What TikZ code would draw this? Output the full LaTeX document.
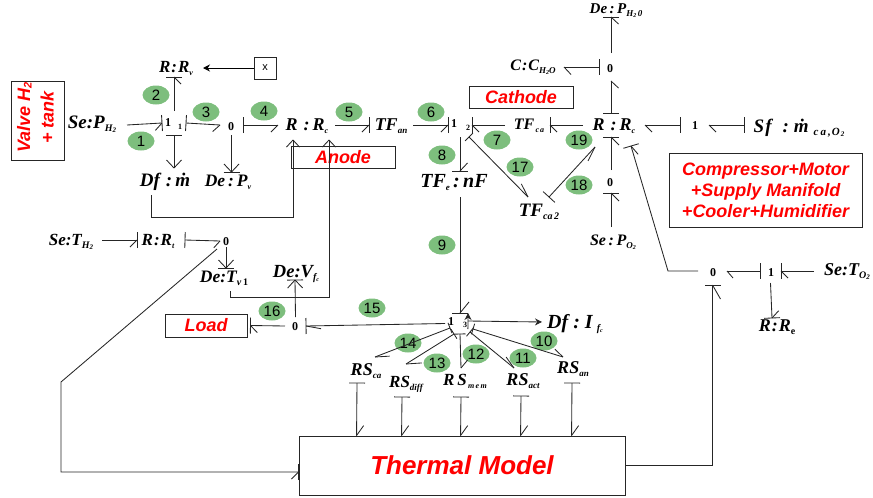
\documentclass[tikz,border=0pt]{standalone}
\usepackage{fontspec}
\setmainfont{Liberation Serif}
\newfontfamily\rdf{Liberation Sans}
\usetikzlibrary{arrows.meta,shapes.geometric,decorations.markings}
\newcommand{\fs}[1]{\fontsize{#1}{#1}\selectfont}
\newcommand{\subt}[2]{\raisebox{-3pt}{\fs{#1}#2}}
\newcommand{\subu}[2]{\raisebox{-1.5pt}{\fs{#1}#2}}
\newcommand{\jf}{\upshape\fs{12}}
\definecolor{grnc}{HTML}{7DBE7D}
\tikzset{
 lblbox/.style={inner sep=0pt,outer sep=0pt,font=\bfseries\itshape},
 bondl/.style={draw=black!85,line width=0.85pt},
 mk/.style 2 args={postaction={decorate,decoration={markings,mark=at position #1 with {#2}}}},
 tipL/.style 2 args={mk={0.9999}{\draw[bondl] (0pt,0pt)--({-#1*1pt},{#2*0.5pt});}},
 tipR/.style 2 args={mk={0.9999}{\draw[bondl] (0pt,0pt)--({-#1*1pt},{-#2*0.5pt});}},
 barE/.style={mk={0.9999}{\draw[bondl] (0pt,-8pt)--(0pt,8pt);}},
 barS/.style={mk={0.0001}{\draw[bondl] (0pt,-8pt)--(0pt,8pt);}},
 barSs/.style={mk={0.0001}{\draw[bondl] (0pt,-5.5pt)--(0pt,5.5pt);}},
 eR/.style 2 args={bondl,tipR={#1}{#2},barE},
 eL/.style 2 args={bondl,tipL={#1}{#2},barE},
 sR/.style 2 args={bondl,tipR={#1}{#2},barS},
 sL/.style 2 args={bondl,tipL={#1}{#2},barS},
 sLs/.style 2 args={bondl,tipL={#1}{#2},barSs},
 sO/.style={bondl,tipL={8}{15},tipR={8}{15},barS},
 eO/.style={bondl,tipL={8}{15},tipR={8}{15},barE},
 oa/.style={bondl,tipL={7}{13},tipR={7}{13}},
 fa/.style={draw=black,line width=0.85pt,arrows={-{Stealth[length=7pt,width=7pt]}}},
 sF/.style={bondl,barS,arrows={-{Stealth[length=7pt,width=7pt]}}},
 grn/.style={ellipse,fill=grnc,inner sep=0pt,minimum width=27pt,minimum height=19pt,font=\rdf\fs{15}},
 rbox/.style={draw=black!85,line width=0.9pt,inner sep=0pt,text=red,font=\rdf\bfseries\itshape\fs{18},align=center},
}
\newcommand{\bn}[8]{%
 \pgfmathsetmacro\cxa{(#2+#4)/2}\pgfmathsetmacro\cya{(#3+#5)/2}%
 \pgfmathsetmacro\wa{#4-#2}\pgfmathsetmacro\ha{#5-#3}%
 \pgfmathsetmacro\dxa{2*(#6-\cxa)}\pgfmathsetmacro\dya{\cya-#7}%
 \node[lblbox,minimum width=\wa pt,minimum height=\ha pt] (#1) at (\cxa,\cya)
   {\smash{\makebox[0pt]{\hspace*{\dxa pt}\raisebox{\dya pt}{#8}}}};%
}
\begin{document}
\begin{tikzpicture}[x=1pt,y=-1pt]
\useasboundingbox (0,0) rectangle (873,498);
% red boxes
\node[rbox,minimum width=52.5pt,minimum height=79pt] (valve) at (38,120.5) {\rotatebox{90}{\hspace*{6pt}\begin{tabular}{@{}c@{}}\fs{18}Valve H\subu{11}{2}\\[5pt]\fs{18}+ tank\end{tabular}}};
\node[rbox,minimum width=104pt,minimum height=22pt] (cath) at (521,97) {Cathode};
\node[rbox,minimum width=104pt,minimum height=22pt] (anode) at (343,157) {Anode};
\node[rbox,minimum width=193pt,minimum height=74pt] (comp) at (765.5,190) {Compressor+Motor\\[3pt]+Supply Manifold\\[3pt]+Cooler+Humidifier};
\node[rbox,minimum width=82pt,minimum height=23pt] (load) at (206,325.5) {Load};
\node[rbox,minimum width=326pt,minimum height=59pt,font=\rdf\bfseries\itshape\fs{26}] (th) at (462,465.5) {Thermal Model};
\node[draw=black!85,line width=0.9pt,inner sep=0pt,minimum width=22pt,minimum height=22pt,font=\rdf\fs{11}] (xb) at (265,68) {x};
% green tags
\foreach \nm/\px/\py/\t in {g1/141/141/1,g2/156/95/2,g3/206/112/3,g4/264/111/4,g5/349/112/5,g6/431/112/6,g7/497/140/7,g8/442/155/8,g9/442/245/9,g10/544/341/10,g11/523/358/11,g12/476/354/12,g13/437/363/13,g14/408/343/14,g15/372/308/15,g16/272/311/16,g17/520/167/17,g18/579/185/18,g19/579/140/19}
  \node[grn] (\nm) at (\px,\py) {\t};
% labels and junctions
\bn{sePH}{60}{110}{127}{140}{92}{128}{\fs{19}Se:P\subt{10}{H\subu{7}{2}}}
\bn{ja}{162}{111}{186}{135}{168}{126}{\jf 1}
\node[lblbox,font=\bfseries\fs{8}] (sa) at (180,127) {1};
\bn{jb}{220}{115}{243}{135}{231}{130}{\jf 0}
\bn{Rv}{145}{59}{203}{77}{176}{72}{\fs{17}R\kern1pt:\kern1pt R\subt{8}{v}}
\bn{Df}{151}{168}{197}{195}{165}{186}{\fs{19}Df\hspace{6pt}:\hspace{3pt}ṁ}
\bn{Dep}{205}{172}{258}{190}{228}{186}{\fs{17.5}De\,:\,P\subt{8}{v}}
\bn{Rc}{293}{110}{329}{140}{307}{130}{\fs{18}R\,\,:\,R\subt{8}{c}}
\bn{TFan}{369}{117}{413}{133}{391}{130}{\fs{18}TF\subt{9}{an}}
\bn{jc}{448}{113}{472}{137}{454}{127}{\jf 1}
\node[lblbox,font=\bfseries\fs{8}] (sc) at (468,128) {2};
\bn{TFca}{505}{115}{550}{135}{529}{129}{\fs{16}TF\subt{8}{\,c\kern1pt a}}
\bn{Rr}{583}{113}{639}{137}{614}{130}{\fs{18}R\,\,:\,R\subt{8}{c}}
\bn{jd}{680}{115}{709}{135}{695}{129}{\jf 1}
\bn{Sf}{744}{115}{855}{135}{799}{132}{\fs{19}S\kern1pt f\hspace{11pt}:\hspace{5pt}ṁ\hspace{5pt}\subt{11}{c\kern2pt a\kern2pt,\kern1pt O\kern1pt\subu{7}{2}}}
\bn{je}{599}{53}{623}{81}{610}{72}{\jf 0}
\bn{Cc}{500}{57}{564}{77}{533}{70}{\fs{16}C\kern1pt:\kern1pt C\subt{9}{H\subu{6}{2}O}}
\bn{Dew}{585}{0}{637}{17}{616}{13}{\fs{15}De\,:\,P\subt{9}{H\subu{6}{2}\,0}}
\bn{jf}{600}{170}{622}{193}{610}{186}{\jf 0}
\bn{SeO}{585}{227}{637}{252}{613}{245}{\fs{16}Se\,:\,P\subt{9}{O\subu{6}{2}}}
\bn{TFb}{528}{197}{549}{225}{539}{216}{\fs{19}TF\subt{10}{ca\,2}}
\bn{TFe}{421}{171}{499}{197}{454}{187}{\fs{20}TF\subt{9}{e}\,:\,nF}
\bn{jr}{760}{259}{781}{283}{771}{276}{\jf 1}
\bn{jq}{698}{257}{727}{285}{713}{276}{\jf 0}
\bn{SeT}{814}{260}{873}{282}{847}{275}{\fs{18}Se:T\subt{10}{O\subu{7}{2}}}
\bn{Re}{750}{318}{794}{336}{777}{331}{\fs{18}R\kern1pt:\kern1pt R\subt{10}{\upshape e}}
\bn{Dfi}{542}{312}{606}{332}{575}{328}{\fs{20}Df\hspace{5pt}:\hspace{5pt}I\subt{10}{\kern4pt f\subu{6}{c}}}
\bn{SeH}{44}{230}{102}{250}{71}{245}{\fs{17}Se:T\subt{10}{H\subu{7}{2}}}
\bn{Rt}{137}{230}{185}{250}{158}{245}{\fs{17}R\kern1pt:\kern1pt R\subt{8}{t}}
\bn{jt}{220}{235}{232}{247}{226}{245}{\jf 0}
\bn{Det}{199}{268}{253}{291}{224}{282}{\fs{17.5}De:T\subt{10}{v\,\upshape 1}}
\bn{Dev}{272}{262}{318}{280}{296}{277}{\fs{18.5}De:V\subt{10}{f\subu{6}{c}}}
\bn{jl}{285}{317}{306}{335}{295}{330}{\jf 0}
\bn{jm}{445}{313}{475}{334}{451}{325}{\jf 1}
\node[lblbox,font=\bfseries\fs{8}] (sm) at (465,325) {3};
\bn{RSca}{351}{357}{381}{383}{366}{375}{\fs{18}RS\subt{9}{ca}}
\bn{RSd}{389}{364}{423}{397}{406}{387}{\fs{17}RS\subt{9}{diff}}
\bn{RSm}{443}{368}{479}{397}{465}{385}{\fs{17}R\,S\subt{8}{\,m\,e\,m}}
\bn{RSa}{495}{368}{533}{396}{523}{385}{\fs{18}RS\subt{9}{act}}
\bn{RSn}{550}{357}{576}{383}{573}{373}{\fs{18}RS\subt{9}{an}}
\coordinate (c1) at (151,217);
\coordinate (c2) at (230,297);
\coordinate (c3) at (668,271);
\coordinate (c4) at (61,382);
\coordinate (c5) at (61,472);
% bonds
\draw[eR={7}{14}] (sePH.east) -- (ja.west);
\draw[eR={7}{14}] (ja.north) -- (Rv.south);
\draw[sR={7}{14}] (ja.east) -- (jb.west);
\draw[sR={7}{14}] (jb.east) -- ([xshift=-15pt]Rc.west);
\draw[sO] (ja.south) -- (Df.north);
\draw[eO] (jb.south) -- (Dep.north);
\draw[fa] (xb.west) -- (Rv.east);
\draw[oa] (Df.south west) -- (c1) -| (Rc.south west);
\draw[oa] ([xshift=4pt]Det.south) -- (c2) -| (Rc.south east);
\draw[eR={7}{14}] ([xshift=6pt]Rc.east) -- (TFan.west);
\draw[eR={7}{14}] (TFan.east) -- (jc.west);
\draw[eL={7}{14}] (TFca.west) -- (jc.east);
\draw[eL={7}{14}] (Rr.west) -- (TFca.east);
\draw[eL={8}{15}] (jc.south) -- (TFe.north);
\draw[eL={11}{18}] (TFe.south) -- (jm.north);
\draw[sLs={14}{8.8}] ([xshift=-3pt]jc.south east) -- (TFb.north west);
\draw[sR={15}{8.6}] (TFb.north east) -- ([shift={(-16,22)}]Rr.center);
\draw[eR={8}{16}] (jf.north) -- (Rr.south);
\draw[eR={8}{16}] (SeO.north) -- (jf.south);
\draw[sR={7}{15}] (Rr.north) -- (je.south);
\draw[eR={7}{15}] (je.north) -- (Dew.south);
\draw[sL={7}{15}] (je.west) -- (Cc.east);
\draw[sL={7}{14}] (jd.west) -- ([xshift=6pt]Rr.east);
\draw[sL={7}{14}] (Sf.west) -- (jd.east);
\draw[eR={10}{9}] (jq.west) -- (c3) -- ([shift={(20,21)}]Rr.center);
\draw[sL={6}{14}] (jr.west) -- (jq.east);
\draw[eL={7}{14}] (SeT.west) -- (jr.east);
\draw[eL={7}{14}] (jr.south) -- (Re.north);
\draw[eR={14}{16}] (th.east) -| (jq.south);
\draw[eR={7}{14}] ([shift={(-3,2)}]jt.south west) -- (c4) -- (c5) -- (th.west |- c5);
\draw[eR={7}{14}] (SeH.east) -- (Rt.west);
\draw[sR={6}{14}] (Rt.east) -- (jt.west);
\draw[eO] (jt.south) -- (Det.north);
\draw[eO] (jl.north) -- (Dev.south);
\draw[eL={7}{14}] (jl.west) -- ([xshift=3pt]load.east);
\draw[eL={15}{6}] (jm.west) -- (jl.east);
\draw[sF] ([shift={(-7,-2.5)}]jm.east) -- (Dfi.west);
\draw[sLs={14}{9}] ([shift={(-10,4.5)}]jm.center) -- ([xshift=9pt]RSca.north);
\draw[sLs={14}{15}] ([shift={(-6,10.5)}]jm.center) -- (RSd.north);
\draw[sLs={8}{14}] (jm.south) -- (RSm.north);
\draw[sLs={13}{7}] ([shift={(10,8.5)}]jm.center) -- (RSa.north);
\draw[sLs={10}{10}] ([shift={(13,5.5)}]jm.center) -- (RSn.north);
\draw[sL={10}{14}] ([xshift=-9pt]RSca.south) -- ([xshift=58pt]th.north west);
\draw[sL={10}{14}] ([xshift=-4pt]RSd.south) -- ([xshift=103pt]th.north west);
\draw[sL={10}{14}] (RSm.south) -- ([xshift=162pt]th.north west);
\draw[sL={10}{14}] ([xshift=7pt]RSa.south) -- ([xshift=222pt]th.north west);
\draw[sL={10}{14}] ([xshift=9pt]RSn.south) -- ([xshift=273pt]th.north west);
\end{tikzpicture}
\end{document}
